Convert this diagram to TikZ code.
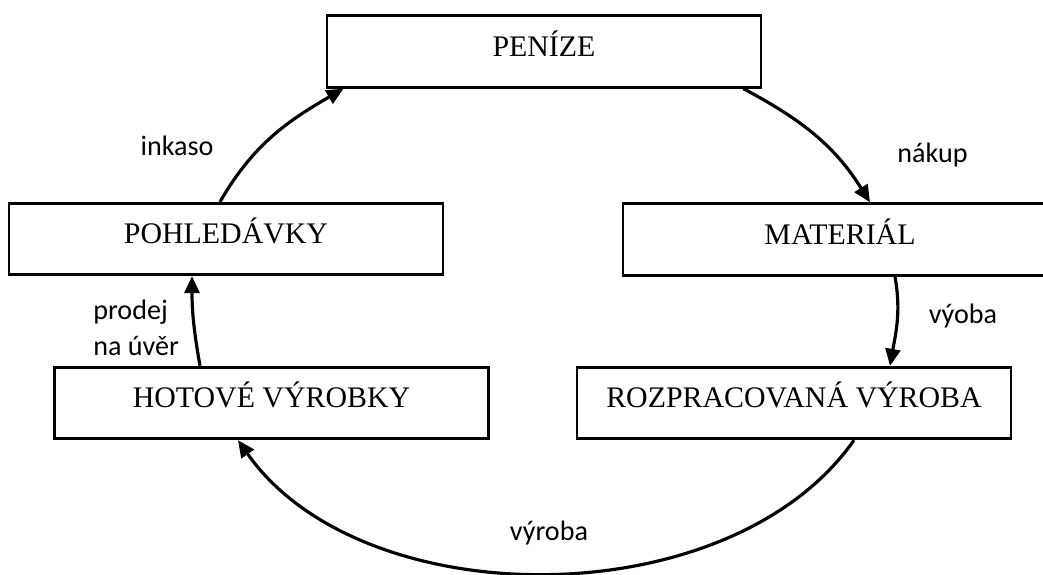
\documentclass[tikz,border=0pt]{standalone}
\usepackage{fontspec}
\setmainfont{Liberation Serif}
\newfontfamily\labelfont{Carlito}
\usepackage{tikz}
\usetikzlibrary{arrows.meta,positioning}
\tikzset{% boxes of the cycle and the arrows between them
	stage/.style={draw, line width=1.6pt, minimum width=8.68cm, minimum height=1.43cm,
		inner sep=0pt, text height=0.42cm, text depth=0.24cm,
		font=\fontsize{17}{20}\selectfont},
	flow/.style={line width=1.8pt, -{Triangle[length=0.34cm,width=0.3cm]}},
	flowlabel/.style={font=\labelfont\fontsize{16}{20}\selectfont, inner sep=0pt}
}

\begin{document}
\begin{tikzpicture}
\useasboundingbox (0,0) rectangle (20.86,-11.48);
% boxes
\node[stage] (penize) at (10.88,-1.03) {PENÍZE};
\node[stage] (pohl) at (4.52,-4.78) {POHLEDÁVKY};
\node[stage] (material) at (16.80,-4.79) {MATERIÁL};
\node[stage] (hotove) at (5.43,-8.06) {HOTOVÉ VÝROBKY};
\node[stage] (rozprac) at (15.88,-8.06) {ROZPRACOVANÁ VÝROBA};
% arrows
\draw[flow] ([xshift=-0.12cm]pohl.north) to[out=60,in=-150] ([xshift=0.36cm]penize.south west);
\draw[flow] ([xshift=-0.38cm]penize.south east) to[out=-28,in=122] ([xshift=0.6cm]material.north);
\draw[flow] ([xshift=1.1cm]material.south) to[out=-80,in=80] ([xshift=1.92cm]rozprac.north);
\draw[flow] ([xshift=1.2cm]rozprac.south) to[out=-125,in=-55,looseness=0.9] ([xshift=-0.67cm]hotove.south);
\draw[flow] ([xshift=-1.43cm]hotove.north) to[out=100,in=-90] ([xshift=-0.68cm]pohl.south);
% labels
\node[flowlabel, anchor=base] (inkaso) at (3.54,-3.10) {inkaso};
\node[flowlabel, anchor=base] (nakup) at (18.65,-3.24) {nákup};
\node[flowlabel, anchor=base] (vyoba) at (19.26,-6.46) {výoba};
\node[flowlabel, anchor=base west, align=left] (prodej) at (1.86,-7.10) {prodej\\na úvěr};
\node[flowlabel, anchor=base] (vyroba) at (10.98,-10.80) {výroba};
\end{tikzpicture}
\end{document}
